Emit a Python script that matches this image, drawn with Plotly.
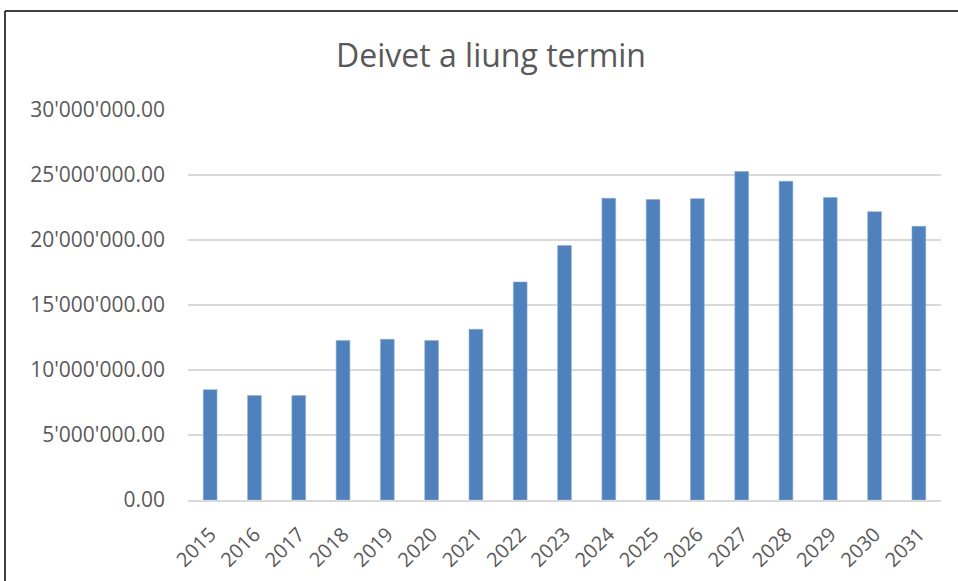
import plotly.graph_objects as go

years = [str(y) for y in range(2015, 2032)]
values = [8490000, 8030000, 8030000, 12260000, 12360000, 12260000, 13130000,
          16770000, 19570000, 23210000, 23110000, 23180000, 25260000, 24520000,
          23260000, 22180000, 21050000]
y_ticks = [0, 5000000, 10000000, 15000000, 20000000, 25000000, 30000000]

fig = go.Figure(go.Bar(
    x=years, y=values,
    marker=dict(color="#4f81bd", line=dict(color="#8eabd2", width=0.6)),
))

L, R, T, B = 188, 17, 110, 81
pw = 958 - L - R
ph = 581 - T - B
bx = (5 - L) / pw
by = 1 + (T - 11) / ph

FONT = "'Open Sans', sans-serif"

fig.update_layout(
    width=958, height=581,
    margin=dict(l=L, r=R, t=T, b=B),
    paper_bgcolor="white", plot_bgcolor="white",
    separators=".'",
    bargap=0.69,
    showlegend=False,
    font=dict(family=FONT, color="#595959"),
    title=dict(text="Deivet a liung termin", x=(491 - L) / pw, xref="paper",
               xanchor="center", y=1 - 56 / 581, yanchor="middle",
               font=dict(size=32, color="#595959", family=FONT)),
    xaxis=dict(tickangle=-45, tickfont=dict(size=20, color="#595959"),
               showgrid=False, showline=True, linecolor="#d9d9d9", linewidth=1.5,
               ticks="", ticklabelstandoff=13, automargin=False),
    yaxis=dict(range=[0, 30000000], tickvals=y_ticks, tickformat=",.2f",
               tickfont=dict(size=21, color="#595959"),
               showgrid=True, gridcolor="#d9d9d9", gridwidth=1.5,
               zeroline=False, showline=False, ticks="", ticklabelstandoff=22,
               automargin=False),
    shapes=[
        dict(type="line", xref="paper", yref="paper", x0=bx, x1=bx, y0=-0.3, y1=by,
             line=dict(color="black", width=1.5)),
        dict(type="line", xref="paper", yref="paper", x0=bx, x1=1.1, y0=by, y1=by,
             line=dict(color="black", width=1.5)),
    ],
)

fig.write_html("out.html", config={"displayModeBar": False},
               post_script="document.body.style.margin='0';document.body.style.overflow='hidden';")
